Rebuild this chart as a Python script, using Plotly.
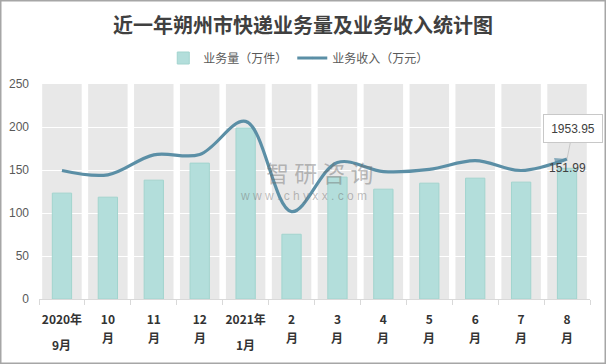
import plotly.graph_objects as go

# ---- data ----
label_line1 = ["2020年", "10", "11", "12", "2021年", "2", "3", "4", "5", "6", "7", "8"]
label_line2 = ["9月", "月", "月", "月", "1月", "月", "月", "月", "月", "月", "月", "月"]
volume = [123.1, 118.4, 138.2, 158.0, 198.8, 75.3, 141.7, 127.7, 134.7, 140.5, 135.9, 151.99]   # 万件
income = [1793, 1733, 2012, 2016, 2478, 1220, 1905, 1778, 1808, 1930, 1793, 1953.95]           # 万元
band_max = 250
y_ticks = [0, 50, 100, 150, 200, 250]

categories = [a + b for a, b in zip(label_line1, label_line2)]

W, H = 606, 364
ML, MR, MT, MB = 39, 16, 84, 65

fig = go.Figure()

fig.add_trace(go.Bar(
    x=categories, y=volume, name="业务量（万件）",
    marker=dict(color="#b3dedb", line=dict(color="#a2d4ce", width=1)),
    width=0.42, yaxis="y",
))

n = len(income)
symbols = ["diamond"] + ["circle"] * (n - 2) + ["arrow"]
sizes = [10] + [0] * (n - 2) + [13]
fig.add_trace(go.Scatter(
    x=categories, y=income, name="业务收入（万元）", yaxis="y2",
    mode="lines+markers",
    line=dict(color="#5b8fa6", width=3.2, shape="spline", smoothing=1.0),
    marker=dict(symbol=symbols, size=sizes, color="#5b8fa6", angleref="previous",
                line=dict(width=0)),
))

# gray background bands, one per category
shapes = []
for i, c in enumerate(categories):
    shapes.append(dict(type="rect", xref="x", yref="y", x0=i - 0.43, x1=i + 0.43,
                       y0=0, y1=band_max,
                       fillcolor="#e8e8e8", line=dict(width=0), layer="below"))
# outer frame
pw = W - ML - MR
ph = H - MT - MB
shapes.append(dict(type="rect", xref="paper", yref="paper",
                   x0=-ML / pw + 0.75 / pw, x1=1 + MR / pw - 0.75 / pw,
                   y0=-MB / ph + 0.75 / ph, y1=1 + MT / ph - 0.75 / ph,
                   line=dict(color="#a6a6a6", width=1.5), layer="above"))

annotations = [
    dict(x=categories[-1], y=income[-1], xref="x", yref="y2", text="1953.95",
         showarrow=True, arrowhead=0, arrowcolor="#c8c8c8", arrowwidth=1,
         ax=6, ay=-30, bgcolor="white", bordercolor="#c8c8c8", borderwidth=1,
         width=56, height=25, font=dict(size=12, color="#404040", family="Liberation Sans")),
    dict(x=categories[-1], y=volume[-1], xref="x", yref="y", text="151.99",
         showarrow=False, yanchor="middle", font=dict(size=12, color="#404040", family="Liberation Sans")),
    dict(x=0.5, y=(299 - 172) / 215, xref="paper", yref="paper", text="智 研 咨 询", showarrow=False,
         yanchor="middle",
         font=dict(size=23, color="rgba(110,110,110,0.45)", family="Noto Sans CJK SC"),
         xshift=5),
    dict(x=0.5, y=(299 - 196) / 215, xref="paper", yref="paper", text="w w w . c h y x x . c o m",
         showarrow=False, yanchor="middle",
         font=dict(size=12, color="rgba(110,110,110,0.45)", family="Liberation Sans"),
         xshift=-11),
]
# second line of the category labels
for c, l1, l2 in zip(categories, label_line1, label_line2):
    annotations.append(dict(x=c, y=0, xref="x", yref="paper", text="<b>" + l2 + "</b>",
                            showarrow=False, yanchor="middle",
                            yshift=-(45 if "年" in l1 else 38),
                            font=dict(size=12, color="#333333", family="Noto Sans CJK SC")))

fig.update_layout(
    width=W, height=H,
    margin=dict(l=ML, r=MR, t=MT, b=MB, autoexpand=False),
    paper_bgcolor="white", plot_bgcolor="white",
    title=dict(text="<b>近一年朔州市快递业务量及业务收入统计图</b>", xref="container", x=0.5,
               xanchor="center", yref="container", y=1 - 26 / H, yanchor="middle",
               font=dict(size=20, color="#404040", family="Noto Sans CJK SC")),
    legend=dict(orientation="h", xref="container", x=0.493, xanchor="center",
                yref="container", y=1 - 58 / H, yanchor="middle",
                font=dict(size=12, color="#595959", family="Noto Sans CJK SC"),
                itemwidth=30, traceorder="normal"),
    showlegend=True,
    bargap=0.2,
    xaxis=dict(type="category", showgrid=False, showline=True, linecolor="#d9d9d9", linewidth=1,
               ticks="outside", ticklen=5, tickcolor="#d9d9d9", tickson="boundaries",
               tickangle=0, automargin=False,
               tickvals=categories, ticktext=label_line1,
               tickfont=dict(size=12, color="#333333", family="Noto Sans CJK SC", weight="bold"),
               ticklabelstandoff=10, range=[-0.5, len(categories) - 0.5]),
    yaxis=dict(range=[0, band_max], tickvals=y_ticks, showgrid=True, gridcolor="white", gridwidth=1,
               zeroline=False, showline=False, automargin=False,
               tickfont=dict(size=12, color="#595959", family="Liberation Sans"),
               ticklabelstandoff=9),
    yaxis2=dict(range=[0, 3000], overlaying="y", side="right", visible=False, showgrid=False,
                automargin=False),
    shapes=shapes, annotations=annotations,
)

fig.write_html("out.html", config={"displayModeBar": False},
               post_script="document.body.style.margin='0';document.body.style.overflow='hidden';")
